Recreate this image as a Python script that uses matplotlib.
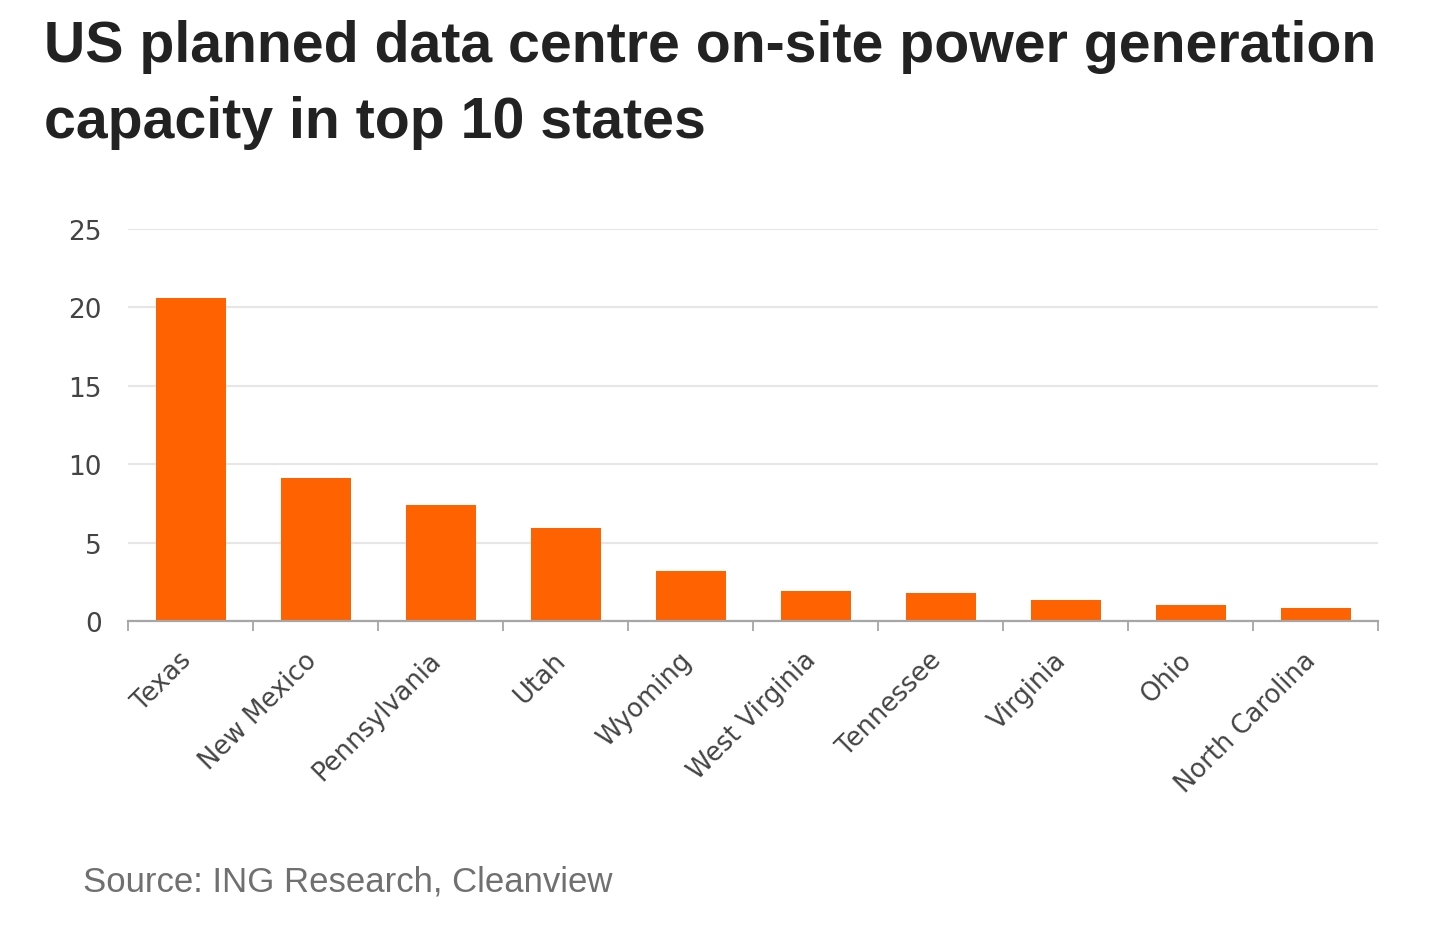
import matplotlib
matplotlib.use("Agg")
import matplotlib.pyplot as plt
import numpy as np

states = ["Texas", "New Mexico", "Pennsylvania", "Utah", "Wyoming",
          "West Virginia", "Tennessee", "Virginia", "Ohio", "North Carolina"]
capacity = [20.6, 9.1, 7.4, 5.9, 3.2, 1.9, 1.8, 1.35, 1.05, 0.85]
y_ticks = [0, 5, 10, 15, 20, 25]

title_lines = ["US planned data centre on-site power generation",
               "capacity in top 10 states"]
source = "Source: ING Research, Cleanview"

W, H = 1439, 929
fig = plt.figure(figsize=(W / 100, H / 100), dpi=100)
ax = fig.add_axes([128 / W, 1 - 622 / H, (1378 - 128) / W, (622 - 230) / H])

x = np.arange(len(states))
ax.bar(x, capacity, width=0.56, color="#FF6200", zorder=3)

ax.set_xlim(-0.5, len(states) - 0.5)
ax.set_ylim(0, 25)
ax.set_yticks(y_ticks)
ax.set_yticklabels([str(v) for v in y_ticks])
ax.yaxis.grid(True, color="#e6e6e6", linewidth=1.5, zorder=0)
ax.set_axisbelow(True)

for s in ["top", "right", "left"]:
    ax.spines[s].set_visible(False)
ax.spines["bottom"].set_color("#a6a6a6")
ax.spines["bottom"].set_linewidth(1.6)
ax.spines["bottom"].set_zorder(4)

ax.tick_params(axis="y", length=0, pad=19, labelsize=19, labelcolor="#444444")
for lab in ax.get_yticklabels():
    lab.set_fontfamily("DejaVu Sans")

# category labels at centres, boundary tick marks as minor ticks
ax.set_xticks(x)
ax.set_xticklabels(states, rotation=45, ha="right", va="center",
                   rotation_mode="anchor", fontsize=18.5, color="#444444",
                   fontfamily="DejaVu Sans")
ax.tick_params(axis="x", which="major", length=0, pad=25)
ax.set_xticks(np.arange(-0.5, len(states) + 0.5, 1.0), minor=True)
ax.tick_params(axis="x", which="minor", length=7, width=1.3, color="#a6a6a6")
for lab in ax.get_xticklabels():
    lab.set_transform(lab.get_transform() + matplotlib.transforms.ScaledTranslation(-3 / 100, 0, fig.dpi_scale_trans))

fig.text(44 / W, 1 - 62 / H, title_lines[0], fontsize=41.2, fontweight="bold",
         fontfamily="Liberation Sans", color="#222222", va="baseline", ha="left")
fig.text(44 / W, 1 - 138 / H, title_lines[1], fontsize=41.2, fontweight="bold",
         fontfamily="Liberation Sans", color="#222222", va="baseline", ha="left")
fig.text(83 / W, 1 - 892 / H, source, fontsize=25.0, fontfamily="Liberation Sans",
         color="#707070", va="baseline", ha="left")

fig.savefig("out.png", dpi=100, facecolor="white")
